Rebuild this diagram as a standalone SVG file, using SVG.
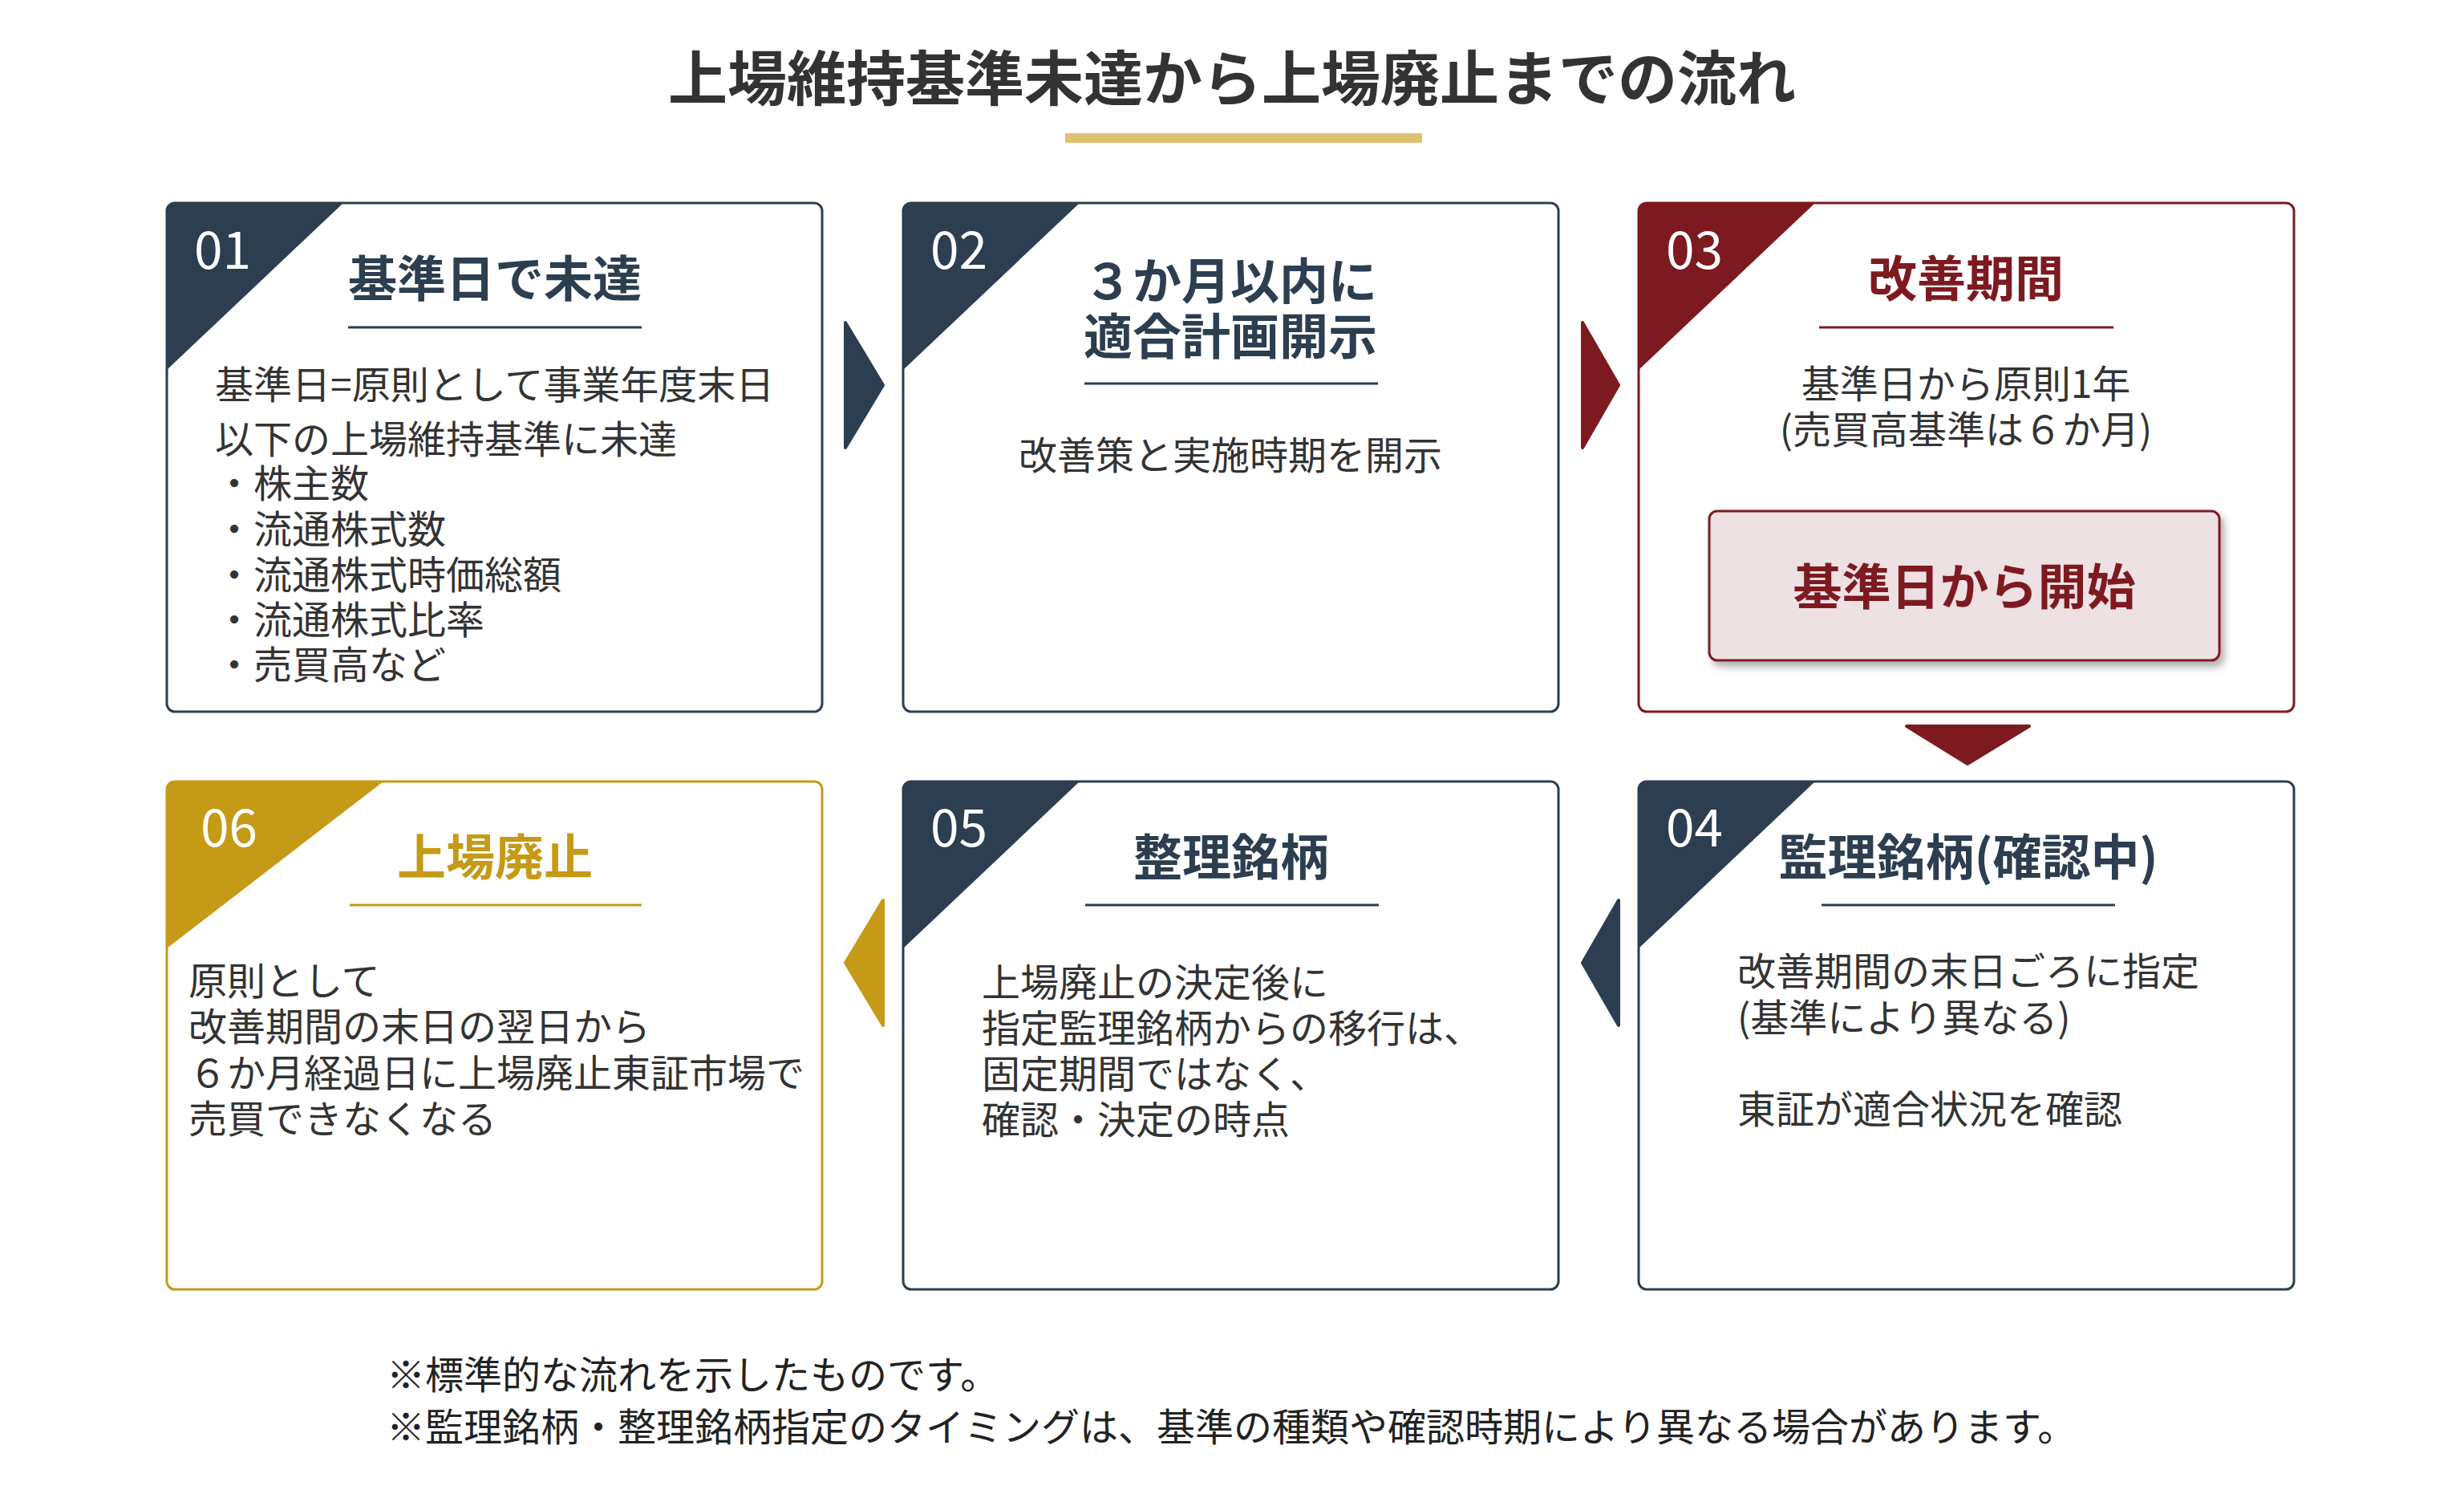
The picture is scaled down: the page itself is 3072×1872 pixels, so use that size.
<svg xmlns="http://www.w3.org/2000/svg" width="3072" height="1872" viewBox="0 0 3072 1872">
<defs>
<style>
text { font-family: "Noto Sans CJK JP", "Noto Sans", sans-serif; }
.main { font-size: 74px; font-weight: 700; fill: #333333; }
.num { font-size: 64px; fill: #ffffff; }
.ttl { font-size: 61px; font-weight: 700; text-anchor: middle; }
.body { font-size: 48px; fill: #333333; }
.mid { text-anchor: middle; }
.note { font-size: 48px; fill: #222222; }
.card { fill: #ffffff; stroke-width: 3; }
.navy { fill: #2c3e50; }
.red { fill: #7d1a20; }
.gold { fill: #c59a16; }
.sNavy { stroke: #2c3e50; }
.sRed { stroke: #7d1a20; }
.sGold { stroke: #c59a16; }
.uline { stroke-width: 3; fill: none; }
.arrow { stroke-width: 4; stroke-linejoin: round; }
</style>
<filter id="sh" x="-10%" y="-20%" width="130%" height="150%">
<feDropShadow dx="5" dy="7" stdDeviation="5" flood-color="#000000" flood-opacity="0.3"/>
</filter>
</defs>
<rect width="3072" height="1872" fill="#ffffff"/>

<g id="title">
<text class="main" x="1536" y="125" text-anchor="middle">上場維持基準未達から上場廃止までの流れ</text>
<rect x="1328" y="166" width="445" height="12" fill="#dfc26f"/>
</g>

<g id="card01">
<rect class="card sNavy" x="208" y="253" width="817" height="634" rx="10"/>
<path class="navy" d="M208,263 Q208,253 218,253 L428,253 L208,461 Z"/>
<text class="num" x="242" y="335">01</text>
<text class="ttl navy" x="617" y="370">基準日で未達</text>
<line class="uline sNavy" x1="434" y1="408" x2="800" y2="408"/>
<text class="body" x="268" y="497">基準日=原則として事業年度末日</text>
<text class="body" x="268" y="565">以下の上場維持基準に未達</text>
<text class="body" x="268" y="620">・株主数</text>
<text class="body" x="268" y="677">・流通株式数</text>
<text class="body" x="268" y="734">・流通株式時価総額</text>
<text class="body" x="268" y="790">・流通株式比率</text>
<text class="body" x="268" y="846">・売買高など</text>
</g>

<g id="card02">
<rect class="card sNavy" x="1126" y="253" width="817" height="634" rx="10"/>
<path class="navy" d="M1126,263 Q1126,253 1136,253 L1346,253 L1126,461 Z"/>
<text class="num" x="1160" y="335">02</text>
<text class="ttl navy" x="1534" y="373">３か月以内に</text>
<text class="ttl navy" x="1534" y="442">適合計画開示</text>
<line class="uline sNavy" x1="1352" y1="478" x2="1718" y2="478"/>
<text class="body mid" x="1534" y="585">改善策と実施時期を開示</text>
</g>

<g id="card03">
<rect class="card sRed" x="2043" y="253" width="817" height="634" rx="10"/>
<path class="red" d="M2043,263 Q2043,253 2053,253 L2263,253 L2043,461 Z"/>
<text class="num" x="2077" y="335">03</text>
<text class="ttl red" x="2451" y="370">改善期間</text>
<line class="uline sRed" x1="2268" y1="408" x2="2635" y2="408"/>
<text class="body mid" x="2451" y="496">基準日から原則1年</text>
<text class="body mid" x="2451" y="553">(売買高基準は６か月)</text>
<rect x="2131" y="637" width="636" height="186" rx="10" fill="#eee1e3" stroke="#7d1a20" stroke-width="3" filter="url(#sh)"/>
<text class="ttl red" x="2449" y="754">基準日から開始</text>
</g>

<g id="card04">
<rect class="card sNavy" x="2043" y="974" width="817" height="633" rx="10"/>
<path class="navy" d="M2043,984 Q2043,974 2053,974 L2263,974 L2043,1182 Z"/>
<text class="num" x="2077" y="1055">04</text>
<text class="ttl navy" x="2454" y="1091">監理銘柄(確認中)</text>
<line class="uline sNavy" x1="2271" y1="1128" x2="2637" y2="1128"/>
<text class="body" x="2166" y="1228">改善期間の末日ごろに指定</text>
<text class="body" x="2166" y="1286">(基準により異なる)</text>
<text class="body" x="2166" y="1400">東証が適合状況を確認</text>
</g>

<g id="card05">
<rect class="card sNavy" x="1126" y="974" width="817" height="633" rx="10"/>
<path class="navy" d="M1126,984 Q1126,974 1136,974 L1346,974 L1126,1182 Z"/>
<text class="num" x="1160" y="1055">05</text>
<text class="ttl navy" x="1535" y="1091">整理銘柄</text>
<line class="uline sNavy" x1="1353" y1="1128" x2="1719" y2="1128"/>
<text class="body" x="1224" y="1242">上場廃止の決定後に</text>
<text class="body" x="1224" y="1299">指定監理銘柄からの移行は、</text>
<text class="body" x="1224" y="1356">固定期間ではなく、</text>
<text class="body" x="1224" y="1413">確認・決定の時点</text>
</g>

<g id="card06">
<rect class="card sGold" x="208" y="974" width="817" height="633" rx="10"/>
<path class="gold" d="M208,984 Q208,974 218,974 L478,974 L208,1182 Z"/>
<text class="num" x="250" y="1055">06</text>
<text class="ttl gold" x="617" y="1091">上場廃止</text>
<line class="uline sGold" x1="436" y1="1128" x2="800" y2="1128"/>
<text class="body" x="235" y="1240">原則として</text>
<text class="body" x="235" y="1297">改善期間の末日の翌日から</text>
<text class="body" x="235" y="1355">６か月経過日に上場廃止東証市場で</text>
<text class="body" x="235" y="1412">売買できなくなる</text>
</g>

<g id="connectors">
<polygon class="arrow navy sNavy" points="1054,402 1101,480 1054,558"/>
<polygon class="arrow red sRed" points="1973,402 2018,480 1973,558"/>
<polygon class="arrow red sRed" points="2377,905 2530,905 2453,952"/>
<polygon class="arrow navy sNavy" points="2018,1122 1973,1200 2018,1278"/>
<polygon class="arrow gold sGold" points="1101,1122 1054,1200 1101,1278"/>
</g>

<g id="notes">
<text class="note" x="482" y="1731">※標準的な流れを示したものです。</text>
<text class="note" x="482" y="1796">※監理銘柄・整理銘柄指定のタイミングは、基準の種類や確認時期により異なる場合があります。</text>
</g>
</svg>
